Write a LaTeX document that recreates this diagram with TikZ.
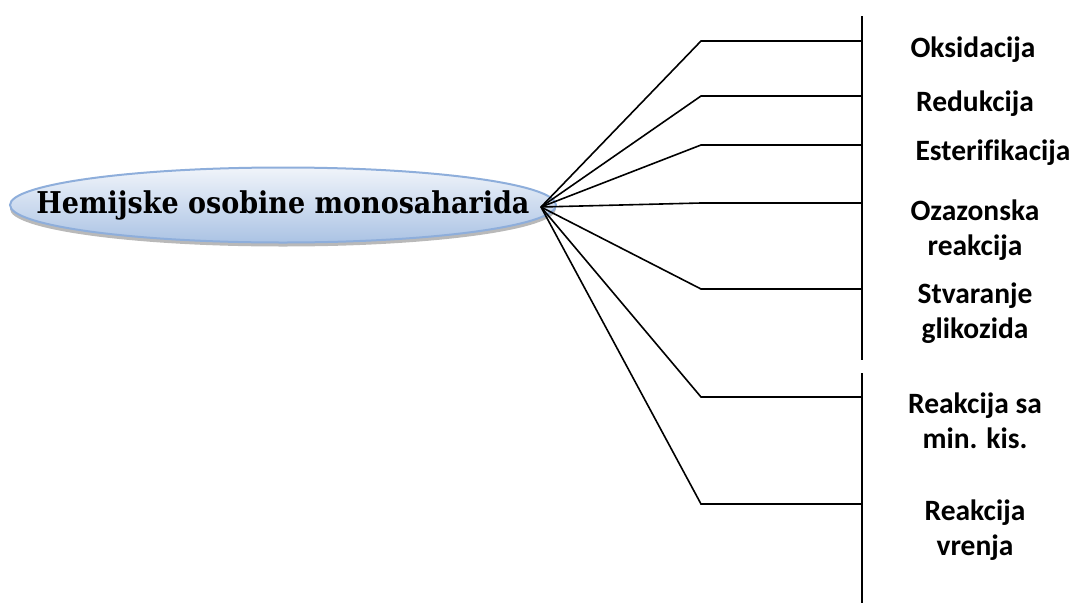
\documentclass[tikz,border=0pt]{standalone}
\usepackage{fontspec}
\usetikzlibrary{shapes.geometric,shadows}
\newfontfamily\labfont{Carlito}[BoldFont={Carlito Bold},Ligatures=NoCommon]
\newfontfamily\titlefont{DejaVu Serif Condensed}[BoldFont={DejaVu Serif Condensed Bold}]
\definecolor{ellborder}{HTML}{8EAEDB}
\definecolor{elltop}{HTML}{F0F4FA}
\definecolor{ellbot}{HTML}{ABC3E4}
\tikzset{
  conn/.style={line width=1.6pt, black, line join=miter},
  bar/.style={line width=1.9pt, black},
  lab/.style={font=\labfont\bfseries\fontsize{29.5}{35.5}\selectfont, align=center, inner sep=0pt},
  mainell/.style={ellipse, draw=ellborder, line width=2pt, top color=elltop, bottom color=ellbot,
    minimum width=546pt, minimum height=75pt, inner sep=0pt,
    drop shadow={shadow xshift=0pt, shadow yshift=-4pt, fill=black!50, opacity=0.55},
    font=\titlefont\bfseries\fontsize{30}{34}\selectfont}
}
\begin{document}
\begin{tikzpicture}[x=1pt,y=-1pt]
\useasboundingbox (0,0) rectangle (1072,603);
\node[mainell] (main) at (283,205) {\makebox[0pt]{Hemijske osobine monosaharida}};
\coordinate (hub) at (541,207);
% vertical bar
\coordinate (vtop) at (862,16);
\coordinate (vmid1) at (862,360);
\coordinate (vmid2) at (862,373);
\coordinate (vbot) at (862,603);
\draw[bar] (vtop) -- (vmid1);
\draw[bar] (vmid2) -- (vbot);
% connectors
\foreach \n/\y in {a/41,b/96,c/145,d/203,e/289,f/397,g/504}{
  \coordinate (k\n) at (701,\y);
  \coordinate (t\n) at (862,\y);
  \draw[conn] (hub) -- (k\n) -- (t\n);
}
% labels
\node[lab] (l1) at (973,50) {Oksidacija};
\node[lab] (l2) at (975,104) {Redukcija};
\node[lab] (l3) at (993,153) {Esterifikacija};
\node[lab] (l4) at (975,230) {Ozazonska\\reakcija};
\node[lab] (l5) at (975,313) {Stvaranje\\glikozida};
\node[lab] (l6) at (975,421) {Reakcija sa\\min. kis.};
\node[lab] (l7) at (975,530) {Reakcija\\vrenja};
\end{tikzpicture}
\end{document}
